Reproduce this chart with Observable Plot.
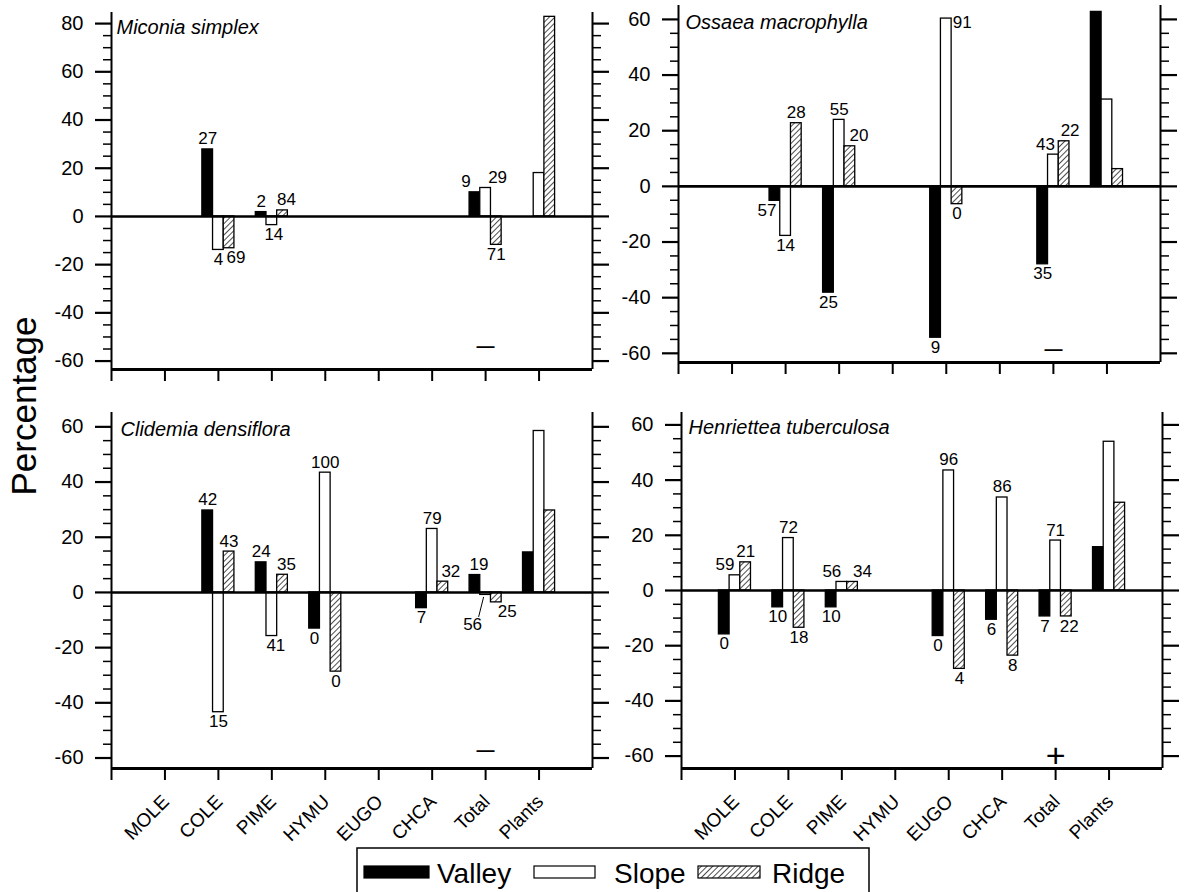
<!DOCTYPE html>
<html>
<head>
<meta charset="utf-8">
<script src="https://cdn.jsdelivr.net/npm/d3@7"></script>
<script src="https://cdn.jsdelivr.net/npm/@observablehq/plot@0.6"></script>
<style>
  html, body { margin: 0; padding: 0; background: #fff; }
  body { font-family: "Liberation Sans", Arial, sans-serif; }
  #root { position: relative; width: 1186px; height: 892px; overflow: hidden; background: #fff; }
</style>
</head>
<body>
<svg width="0" height="0" style="position:absolute">
  <defs>
    <pattern id="hatch" patternUnits="userSpaceOnUse" width="4" height="4" patternTransform="rotate(45)">
      <rect width="4" height="4" fill="white"></rect>
      <line x1="0" y1="0" x2="0" y2="4" stroke="black" stroke-width="1.4"></line>
    </pattern>
  </defs>
</svg>
<div id="root"></div>
<script>
// ---------------- DATA ----------------
const categories = ["MOLE", "COLE", "PIME", "HYMU", "EUGO", "CHCA", "Total", "Plants"];
const seriesNames = ["Valley", "Slope", "Ridge"];
const species = ["Miconia simplex", "Ossaea macrophylla", "Clidemia densiflora", "Henriettea tuberculosa"];

// Miconia simplex
const micValley = [null, 27.8, 1.8, null, null, null, 10.0, null];
const micSlope  = [null, -13.9, -3.6, null, null, null, 11.8, 18.0];
const micRidge  = [null, -13.2, 2.5, null, null, null, -11.8, 82.8];
const micValleyLab = [null, "27", "2", null, null, null, "9", null];
const micSlopeLab  = [null, "4", "14", null, null, null, "29", null];
const micRidgeLab  = [null, "69", "84", null, null, null, "71", null];

// Ossaea macrophylla
const ossValley = [null, -5.2, -38.2, null, -54.4, null, -28.0, 62.7];
const ossSlope  = [null, -17.8, 23.9, null, 60.3, null, 11.4, 31.2];
const ossRidge  = [null, 22.7, 14.4, null, -6.4, null, 16.2, 6.2];
const ossValleyLab = [null, "57", "25", null, "9", null, "35", null];
const ossSlopeLab  = [null, "14", "55", null, "91", null, "43", null];
const ossRidgeLab  = [null, "28", "20", null, "0", null, "22", null];

// Clidemia densiflora
const cliValley = [null, 29.7, 10.9, -13.1, null, -5.7, 6.3, 14.5];
const cliSlope  = [null, -43.4, -15.8, 43.4, null, 23.0, -0.9, 58.5];
const cliRidge  = [null, 14.8, 6.4, -28.7, null, 3.9, -3.6, 29.7];
const cliValleyLab = [null, "42", "24", "0", null, "7", "19", null];
const cliSlopeLab  = [null, "15", "41", "100", null, "79", "56", null];
const cliRidgeLab  = [null, "43", "35", "0", null, "32", "25", null];

// Henriettea tuberculosa
const henValley = [-15.9, -6.1, -6.1, null, -16.5, -10.6, -9.4, 15.7];
const henSlope  = [5.5, 19.0, 3.1, null, 43.5, 33.7, 18.1, 53.9];
const henRidge  = [10.2, -13.5, 3.1, null, -28.4, -23.6, -9.4, 31.8];
const henValleyLab = ["0", "10", "10", null, "0", "6", "7", null];
const henSlopeLab  = ["59", "72", "56", null, "96", "86", "71", null];
const henRidgeLab  = ["21", "18", "34", null, "4", "8", "22", null];

// significance marks on "Total"
const sigCategory = "Total";
const sigSymbols = ["\u2014", "\u2014", "\u2014", "+"];
const sigValues = [-54, -58.6, -57.3, -60];

// y tick labels
const yTicksTop = [-60, -40, -20, 0, 20, 40, 60, 80];
const yTicksOther = [-60, -40, -20, 0, 20, 40, 60];

const values = [
  [micValley, micSlope, micRidge],
  [ossValley, ossSlope, ossRidge],
  [cliValley, cliSlope, cliRidge],
  [henValley, henSlope, henRidge]
];
const labels = [
  [micValleyLab, micSlopeLab, micRidgeLab],
  [ossValleyLab, ossSlopeLab, ossRidgeLab],
  [cliValleyLab, cliSlopeLab, cliRidgeLab],
  [henValleyLab, henSlopeLab, henRidgeLab]
];
const yTicks = [yTicksTop, yTicksOther, yTicksOther, yTicksOther];

// ---------------- LAYOUT (not data) ----------------
const layout = [
  {left: 0,   top: 0,   width: 620, height: 400, mL: 111, mR: 28, mT: 12, mB: 31, y: [-63.5, 84.6], tdx: 5,  tdy: 7, xLabels: false},
  {left: 600, top: 0,   width: 586, height: 400, mL: 78,  mR: 26, mT: 5,  mB: 38, y: [-63.3, 65.0], tdx: 7,  tdy: 9, xLabels: false},
  {left: 0,   top: 400, width: 620, height: 460, mL: 111, mR: 28, mT: 12, mB: 92, y: [-63.8, 65.2], tdx: 9,  tdy: 9, xLabels: true},
  {left: 600, top: 400, width: 586, height: 460, mL: 81,  mR: 24, mT: 12, mB: 92, y: [-64.5, 64.5], tdx: 7,  tdy: 7, xLabels: true}
];
const fills = ["black", "white", "url(#hatch)"];
const barOffset = [-0.2, 0, 0.2];
const barWidth = 0.2;
// pixel nudges for value labels that would collide
const nudges = {
  "0|Total|Valley": [-9, 0], "0|Total|Slope": [12, 0], "0|COLE|Ridge": [7, 0], "0|PIME|Ridge": [4, 0], "0|PIME|Slope": [2, 0],
  "1|COLE|Valley": [-8, 0], "1|EUGO|Slope": [16, 14], "1|Total|Slope": [-8, 0], "1|Total|Ridge": [6, 0], "1|PIME|Ridge": [9, 0],
  "2|PIME|Slope": [4, 0], "2|PIME|Ridge": [4, 0], "2|CHCA|Ridge": [8, 0], "2|Total|Valley": [4, 0], "2|Total|Slope": [-13, 20], "2|Total|Ridge": [11, 0],
  "3|MOLE|Slope": [-10, 0], "3|PIME|Slope": [-10, 0], "3|PIME|Ridge": [10, 0], "3|Total|Ridge": [3, 0]
};
const leaders = {"2|Total|Slope": true};

const FONT = "'Liberation Sans', Arial, Helvetica, sans-serif";
const root = document.getElementById("root");

layout.forEach((L, p) => {
  const rows = [];
  seriesNames.forEach((s, k) => {
    values[p][k].forEach((v, ci) => {
      if (v == null) return;
      rows.push({cat: categories[ci], i: ci + 1, series: s, k, value: v, label: labels[p][k][ci]});
    });
  });
  const pxX = (L.width - L.mL - L.mR) / 9;
  const pxY = (L.height - L.mT - L.mB) / (L.y[1] - L.y[0]);
  const key = d => `${p}|${d.cat}|${d.series}`;
  const nud = d => nudges[key(d)] || [0, 0];
  const lab = rows.filter(d => d.label != null);
  const pos = lab.filter(d => d.value >= 0);
  const neg = lab.filter(d => d.value < 0);
  const lead = lab.filter(d => leaders[key(d)]);
  const top = yTicks[p][yTicks[p].length - 1];
  const minor = d3.range(-60, top + 1, 5).filter(v => v % 20 !== 0);
  const sigIndex = categories.indexOf(sigCategory) + 1;

  const marks = [
    ...fills.map((f, k) => Plot.rect(rows.filter(d => d.k === k), {
      x1: d => d.i + barOffset[k] - barWidth / 2,
      x2: d => d.i + barOffset[k] + barWidth / 2,
      y1: 0, y2: "value",
      fill: f, stroke: "black", strokeWidth: 1.3
    })),
    Plot.ruleY([0], {strokeWidth: 2.6}),
    Plot.ruleY([L.y[0]], {strokeWidth: 3}),
    Plot.ruleX([0, 9], {strokeWidth: 2}),
    Plot.axisY({anchor: "left", ticks: yTicks[p], tickSize: 16, tickPadding: 12, fontSize: 20, strokeWidth: 2.2, tickFormat: d => String(d), label: null}),
    Plot.axisY({anchor: "left", ticks: minor, tickSize: 8, strokeWidth: 1.5, tickFormat: () => "", label: null}),
    Plot.axisY({anchor: "right", ticks: yTicks[p], tickSize: 16, strokeWidth: 2.2, tickFormat: () => "", label: null}),
    Plot.axisY({anchor: "right", ticks: minor, tickSize: 8, strokeWidth: 1.5, tickFormat: () => "", label: null}),
    Plot.axisX({anchor: "bottom", ticks: d3.range(0, 9), tickSize: 12, strokeWidth: 2, tickFormat: () => "", label: null}),
    Plot.text(L.xLabels ? categories : [], {
      x: (d, i) => i + 1, frameAnchor: "bottom", dy: 30, dx: 1,
      rotate: -45, textAnchor: "end", lineAnchor: "middle", fontSize: 19, fill: "black"
    }),
    Plot.text(pos, {
      x: d => d.i + barOffset[d.k] + nud(d)[0] / pxX,
      y: d => d.value - nud(d)[1] / pxY,
      text: "label", lineAnchor: "bottom", dy: -5, fontSize: 17, fill: "black"
    }),
    Plot.text(neg, {
      x: d => d.i + barOffset[d.k] + nud(d)[0] / pxX,
      y: d => d.value - nud(d)[1] / pxY,
      text: "label", lineAnchor: "top", dy: 3, fontSize: 17, fill: "black"
    }),
    Plot.link(lead, {
      x1: d => d.i + barOffset[d.k] - 2 / pxX,
      y1: d => d.value - 2 / pxY,
      x2: d => d.i + barOffset[d.k] + (nud(d)[0] + 6) / pxX,
      y2: d => d.value - (nud(d)[1] + 2) / pxY,
      stroke: "black", strokeWidth: 1
    }),
    Plot.text([sigValues[p]], {
      x: () => sigIndex, y: d => d, text: () => sigSymbols[p],
      fontSize: sigSymbols[p] === "+" ? 34 : 18, fontWeight: sigSymbols[p] === "+" ? "normal" : "bold",
      lineAnchor: "middle", fill: "black"
    }),
    Plot.text([species[p]], {
      frameAnchor: "top-left", textAnchor: "start", lineAnchor: "top",
      dx: L.tdx, dy: L.tdy, fontSize: 20, fontStyle: "italic", fill: "black"
    })
  ];

  const chart = Plot.plot({
    width: L.width, height: L.height,
    marginLeft: L.mL, marginRight: L.mR, marginTop: L.mT, marginBottom: L.mB,
    x: {type: "linear", domain: [0, 9]},
    y: {type: "linear", domain: L.y},
    style: {fontFamily: FONT, fontSize: "18px", background: "transparent", overflow: "visible", color: "black"},
    marks
  });
  chart.style.position = "absolute";
  chart.style.left = L.left + "px";
  chart.style.top = L.top + "px";
  chart.style.maxWidth = "none";
  root.appendChild(chart);
});

// ---------------- overlay: y title and legend ----------------
const ov = d3.select(root).append("svg")
  .attr("width", 1186).attr("height", 892)
  .style("position", "absolute").style("left", "0px").style("top", "0px")
  .style("pointer-events", "none").style("overflow", "hidden");

ov.append("text")
  .attr("transform", "translate(36,406) rotate(-90)")
  .attr("text-anchor", "middle")
  .attr("font-family", FONT).attr("font-size", 35).attr("fill", "black")
  .text("Percentage");

const lg = ov.append("g");
lg.append("rect").attr("x", 357).attr("y", 848).attr("width", 512).attr("height", 60)
  .attr("fill", "white").attr("stroke", "black").attr("stroke-width", 1.5);
const legendItems = [
  {name: seriesNames[0], fill: fills[0], sx: 364, sw: 65, tx: 437},
  {name: seriesNames[1], fill: fills[1], sx: 534, sw: 61, tx: 614},
  {name: seriesNames[2], fill: fills[2], sx: 698, sw: 62, tx: 772}
];
legendItems.forEach(it => {
  lg.append("rect").attr("x", it.sx).attr("y", 866).attr("width", it.sw).attr("height", 12)
    .attr("fill", it.fill).attr("stroke", "black").attr("stroke-width", 1.2);
  lg.append("text").attr("x", it.tx).attr("y", 883)
    .attr("font-family", FONT).attr("font-size", 28).attr("fill", "black")
    .text(it.name);
});
</script>
</body>
</html>
